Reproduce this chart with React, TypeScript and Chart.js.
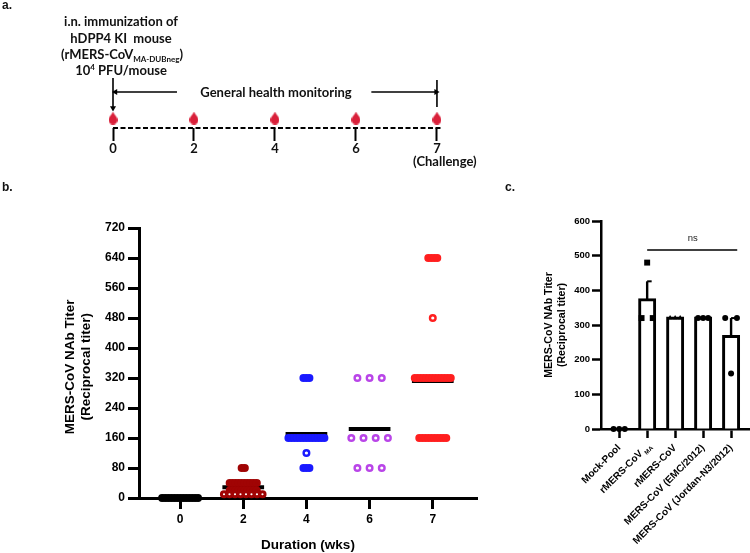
import React, { useEffect, useRef } from "react";
import Chart from "chart.js/auto";

// ---------- Panel a: timeline ----------
const timelineWeeks = ["0", "2", "4", "6", "7"];
const samplingIndex = [0, 1, 2, 3, 4];

// ---------- Panel b: titers by week ----------
const weekLabels = ["0", "2", "4", "6", "7"];
const week0Titers = [0];
const week0Counts = [13];
const week2Titers = [80, 40, 20, 10];
const week2Counts = [2, 10, 10, 8];
const week2Gaps = [3, 3, 3, 5.5];
const week4Titers = [320, 160, 120, 80];
const week4Counts = [3, 13, 1, 3];
const week6Titers = [320, 160, 80];
const week6Counts = [3, 4, 3];
const week7Titers = [640, 480, 320, 160];
const week7Counts = [4, 1, 13, 10];
const weekMeans = [0, 29, 171, 184, 312];

// ---------- Panel c: bars ----------
const strainLabels = ["Mock-Pool", "rMERS-CoV", "rMERS-CoV", "MERS-CoV (EMC/2012)", "MERS-CoV (Jordan-N3/2012)"];
const strainMeans = [0, 373, 320, 320, 267];
const strainErrors = [0, 53, 0, 0, 53];
const mockTiters = [0, 0, 0];
const maTiters = [480, 320, 320];
const rmersTiters = [320, 320, 320];
const emcTiters = [320, 320, 320];
const jordanTiters = [320, 320, 160];
const nsSpan = [1, 4.22];
const nsLevel = 516;

const FONT = "'Liberation Sans', Arial, sans-serif";
const BLACK = "#000";

function rows(center: number, values: number[], counts: number[], gap: number | number[], solidBelow = 0) {
  const out: { x: number; y: number; hollow: boolean }[] = [];
  values.forEach((v, i) => {
    const g = Array.isArray(gap) ? gap[i] : gap;
    const hollow = counts[i] === 1 || g >= solidBelow;
    for (let k = 0; k < counts[i]; k++) out.push({ x: center + (k - (counts[i] - 1) / 2) * g, y: v, hollow });
  });
  return out;
}

function sameValueRows(center: number, values: number[], gap: number) {
  const uniq = Array.from(new Set(values));
  return rows(center, uniq, uniq.map((u) => values.filter((v) => v === u).length), gap);
}

function drop() {
  const c = document.createElement("canvas");
  c.width = 9;
  c.height = 13;
  const x = c.getContext("2d")!;
  x.fillStyle = "#d9203a";
  x.beginPath();
  x.moveTo(4.5, 0);
  x.bezierCurveTo(5.5, 3, 9, 5.5, 9, 8.5);
  x.arc(4.5, 8.5, 4.5, 0, Math.PI);
  x.bezierCurveTo(0, 5.5, 3.5, 3, 4.5, 0);
  x.fill();
  return c;
}

const Txt = ({ x, y, size = 13, children, center = true, family = "Lato, sans-serif" }: any) => (
  <div
    style={{
      position: "absolute",
      left: x,
      top: y,
      transform: center ? "translate(-50%,-50%)" : "translateY(-50%)",
      fontFamily: family,
      fontWeight: 700,
      fontSize: size,
      lineHeight: 1,
      whiteSpace: "pre",
      color: "#111",
    }}
  >
    {children}
  </div>
);

export default function App() {
  const aRef = useRef<HTMLCanvasElement>(null);
  const bRef = useRef<HTMLCanvasElement>(null);
  const cRef = useRef<HTMLCanvasElement>(null);

  useEffect(() => {
    document.body.style.margin = "0";
    const seg = (pts: number[][], extra: any = {}) => ({
      type: "line" as const,
      data: pts.map(([x, y]) => ({ x, y })),
      borderColor: BLACK,
      borderWidth: 1.6,
      pointRadius: 0,
      clip: false,
      ...extra,
    });
    const head = (angle: number) => ({
      pointStyle: "triangle",
      pointRadius: [0, 3.5],
      pointRotation: angle,
      pointBackgroundColor: BLACK,
      pointBorderWidth: 0,
    });

    const a = new Chart(aRef.current!, {
      type: "scatter",
      data: {
        datasets: [
          seg([[0, 50], [0, 20]], head(180)),
          seg([[4, 48], [4, 21]]),
          seg([[0.79, 36], [0.03, 36]], head(-90)),
          seg([[3.19, 36], [3.99, 36]], head(90)),
          seg([[0, 0], [4.05, 0]], { borderWidth: 2, borderDash: [5, 2.5] }),
          {
            type: "scatter" as const,
            data: samplingIndex.map((x) => ({ x, y: 10 })),
            pointStyle: drop(),
            clip: false,
          },
        ],
      } as any,
      options: {
        animation: false,
        responsive: false,
        events: [],
        layout: { padding: { left: 113, right: 59, top: 78, bottom: 0 } },
        plugins: { legend: { display: false }, tooltip: { enabled: false } },
        scales: {
          x: {
            type: "linear",
            min: 0,
            max: 4.05,
            afterBuildTicks: (s: any) => { s.ticks = samplingIndex.map((value) => ({ value })); },
            afterFit: (s: any) => { s.height = 52; s.paddingLeft = 0; s.paddingRight = 0; },
            border: { display: false },
            grid: { drawOnChartArea: false, color: BLACK, tickColor: BLACK, tickLength: 13, tickWidth: 2 },
            ticks: {
              autoSkip: false,
              maxRotation: 0,
              padding: 1,
              color: "#111",
              font: { family: "Lato", weight: 700, size: 13, lineHeight: 1 },
              callback: (v: any) =>
                v === 4 ? [timelineWeeks[4], "\u00A0\u00A0\u00A0\u00A0\u00A0(Challenge)"] : timelineWeeks[v],
            },
          },
          y: { display: false, min: 0, max: 50 },
        },
      } as any,
    });

    const swarm = (data: any[], color: string, radius = 2.8, stroke = 2.4) => ({
      type: "scatter" as const,
      data,
      pointStyle: "circle",
      pointRadius: radius,
      pointBorderWidth: stroke,
      pointBorderColor: color,
      pointBackgroundColor: (ctx: any) => (ctx.raw && ctx.raw.hollow ? "#fff" : color),
      clip: false,
      order: 1,
    });
    const U = 1 / 63.25;
    const SOLID = 5 * U;
    const centers = [0, 1, 2, 3, 4];
    const b = new Chart(bRef.current!, {
      type: "scatter",
      data: {
        datasets: [
          ...centers.map((c) =>
            seg([[c - 0.33, weekMeans[c]], [c + 0.33, weekMeans[c]]], { borderWidth: 4, borderCapStyle: "butt", order: 2 })
          ),
          swarm(rows(0, week0Titers, week0Counts, 3 * U, SOLID), "#000"),
          swarm(rows(1, week2Titers, week2Counts, week2Gaps.map((g) => g * U), SOLID), "#a00404", 2.6, 3),
          swarm(rows(2, week4Titers, week4Counts, 3 * U, SOLID), "#1a1aff"),
          swarm(rows(3, week6Titers, week6Counts, 12.2 * U, SOLID), "#b945e8"),
          swarm(rows(4, week7Titers, week7Counts, 3 * U, SOLID), "#ff1f1f"),
        ],
      } as any,
      options: {
        animation: false,
        responsive: false,
        events: [],
        layout: { padding: { left: 0, right: 13, top: 58, bottom: 0 } },
        plugins: { legend: { display: false }, tooltip: { enabled: false } },
        scales: {
          x: {
            type: "linear",
            min: -0.65,
            max: 4.7,
            afterBuildTicks: (s: any) => { s.ticks = centers.map((value) => ({ value })); },
            afterFit: (s: any) => { s.height = 55; s.paddingLeft = 0; s.paddingRight = 0; },
            border: { color: BLACK, width: 3 },
            grid: { drawOnChartArea: false, tickColor: BLACK, tickLength: 11, tickWidth: 3 },
            ticks: {
              autoSkip: false,
              maxRotation: 0,
              padding: 3,
              color: BLACK,
              font: { family: FONT, weight: "bold", size: 12 },
              callback: (v: any) => weekLabels[v],
            },
            title: {
              display: true,
              text: "Duration (wks)",
              color: BLACK,
              font: { family: FONT, weight: "bold", size: 13.5 },
              padding: { top: 0, bottom: 0 },
            },
          },
          y: {
            min: 0,
            max: 720,
            afterFit: (s: any) => { s.width = 139; },
            border: { color: BLACK, width: 3 },
            grid: { drawOnChartArea: false, tickColor: BLACK, tickLength: 11, tickWidth: 3 },
            ticks: {
              stepSize: 80,
              padding: 3,
              color: BLACK,
              font: { family: FONT, weight: "bold", size: 12 },
            },
            title: {
              display: true,
              text: ["MERS-CoV NAb Titer\u00A0\u00A0", "(Reciprocal titer)\u00A0\u00A0"],
              color: BLACK,
              font: { family: FONT, weight: "bold", size: 13.5, lineHeight: 1.2 },
              padding: { top: 62, bottom: 0 },
            },
          },
        },
      } as any,
    });

    const dots = (center: number, values: number[], gap: number, style: string, r: number) => ({
      type: "scatter" as const,
      data: sameValueRows(center, values, gap),
      pointStyle: style,
      pointRadius: r,
      pointBorderWidth: 0,
      pointBackgroundColor: BLACK,
      clip: false,
      order: 0,
    });
    const err = (i: number) =>
      seg([[i, strainMeans[i]], [i, strainMeans[i] + strainErrors[i]]], {
        borderWidth: 2.4,
        order: 1,
        pointStyle: "dash",
        pointRadius: [0, 4.5],
        pointBorderColor: BLACK,
        pointBorderWidth: 2,
      });
    const overlay = {
      id: "overlay",
      afterDraw(ch: any) {
        const { ctx, scales } = ch;
        ctx.save();
        ctx.fillStyle = "#222";
        ctx.font = `9.5px ${FONT}`;
        ctx.textAlign = "center";
        ctx.fillText("ns", scales.x.getPixelForValue(2.63), scales.y.getPixelForValue(nsLevel) - 9);
        ctx.translate(scales.x.getPixelForValue(1) + 3, scales.y.bottom + 16);
        ctx.rotate(-Math.PI / 4);
        ctx.textAlign = "right";
        ctx.textBaseline = "top";
        ctx.fillStyle = BLACK;
        ctx.font = `bold 6px ${FONT}`;
        ctx.fillText("MA", 0, 0);
        ctx.restore();
      },
    };
    const c = new Chart(cRef.current!, {
      type: "scatter",
      data: {
        datasets: [
          {
            type: "bar" as const,
            data: strainMeans.map((y, x) => ({ x, y })),
            barThickness: 15,
            backgroundColor: "#fff",
            borderColor: BLACK,
            borderWidth: 3,
            inflateAmount: 1.5,
            order: 3,
          },
          err(1),
          err(4),
          dots(0, mockTiters, 0.2, "circle", 3),
          dots(1, maTiters, 0.4, "rect", 4.2),
          dots(2, rmersTiters, 0.18, "triangle", 3),
          dots(3, emcTiters, 0.18, "circle", 3),
          dots(4, jordanTiters, 0.42, "circle", 3),
          seg([[nsSpan[0], nsLevel], [nsSpan[1], nsLevel]], { borderWidth: 1.5, order: 0 }),
        ],
      } as any,
      options: {
        animation: false,
        responsive: false,
        events: [],
        layout: { padding: { left: 0, right: 0, top: 21, bottom: 0 } },
        plugins: { legend: { display: false }, tooltip: { enabled: false } },
        scales: {
          x: {
            type: "linear",
            offset: false,
            min: -0.65,
            max: 4.73,
            afterBuildTicks: (s: any) => { s.ticks = strainLabels.map((_, value) => ({ value })); },
            afterFit: (s: any) => { s.height = 124; s.paddingLeft = 0; s.paddingRight = 0; },
            border: { color: BLACK, width: 2.5 },
            grid: { offset: false, drawOnChartArea: false, tickColor: BLACK, tickLength: 9, tickWidth: 2.5 },
            ticks: {
              autoSkip: false,
              minRotation: 45,
              maxRotation: 45,
              padding: 4,
              color: BLACK,
              font: { family: FONT, weight: "bold", size: 10 },
              callback: (v: any) => (v === 1 ? strainLabels[v] + "\u00A0\u00A0\u00A0" : strainLabels[v]),
            },
          },
          y: {
            min: 0,
            max: 600,
            afterFit: (s: any) => { s.width = 71; },
            border: { color: BLACK, width: 2.5 },
            grid: { drawOnChartArea: false, tickColor: BLACK, tickLength: 9, tickWidth: 2.5 },
            ticks: {
              stepSize: 100,
              padding: 2,
              color: BLACK,
              font: { family: FONT, weight: "bold", size: 9.5 },
            },
            title: {
              display: true,
              text: ["MERS-CoV NAb Titer", "(Reciprocal titer)"],
              color: BLACK,
              font: { family: FONT, weight: "bold", size: 10.6, lineHeight: 1.25 },
              padding: { top: 12, bottom: 0 },
            },
          },
        },
      } as any,
      plugins: [overlay],
    });
    return () => {
      a.destroy();
      b.destroy();
      c.destroy();
    };
  }, []);

  const pos = (left: number, top: number): React.CSSProperties => ({ position: "absolute", left, top });
  const LF = "'Liberation Sans', sans-serif";
  return (
    <div style={{ position: "fixed", left: 0, top: 0, width: 750, height: 553, background: "#fff", overflow: "hidden" }}>
      <canvas ref={aRef} width={500} height={180} style={pos(0, 0)} />
      <canvas ref={bRef} width={490} height={383} style={pos(0, 170)} />
      <canvas ref={cRef} width={228} height={353} style={pos(530, 200)} />
      <Txt x={2} y={5} size={12} family={LF} center={false}>a.</Txt>
      <Txt x={2} y={187} size={12} family={LF} center={false}>b.</Txt>
      <Txt x={505} y={187} size={12} family={LF} center={false}>c.</Txt>
      <Txt x={121} y={21}>i.n. immunization of</Txt>
      <Txt x={121} y={38}>hDPP4 KI  mouse</Txt>
      <Txt x={122} y={55}>
        (rMERS-CoV<span style={{ fontSize: 8, verticalAlign: -3 }}>MA-DUBneg</span>)
      </Txt>
      <Txt x={121} y={70}>
        10<span style={{ fontSize: 8, verticalAlign: 5 }}>4</span> PFU/mouse
      </Txt>
      <Txt x={276} y={92}>General health monitoring</Txt>
    </div>
  );
}
